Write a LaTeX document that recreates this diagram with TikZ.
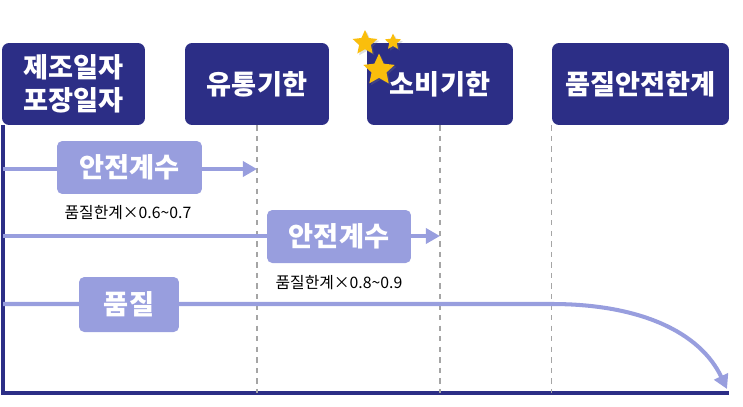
\documentclass[tikz,border=0pt]{standalone}
\usepackage{fontspec}
\setmainfont{Noto Sans CJK KR}
\usetikzlibrary{arrows.meta,shapes.geometric,shadows}
\definecolor{navy}{RGB}{44,46,134}
\definecolor{lav}{RGB}{152,158,222}
\definecolor{gold}{RGB}{250,190,12}
\definecolor{dashgray}{RGB}{165,165,165}

\begin{document}
\begin{tikzpicture}[x=0.02cm,y=-0.02cm,
	head/.style={fill=navy,rounded corners=4pt,text=white,inner sep=0pt,
		minimum height=1.64cm,align=center,font=\fontsize{15.5}{19}\selectfont\bfseries},
	factor/.style={fill=lav,rounded corners=3pt,text=white,inner sep=0pt,
		minimum height=1.06cm,font=\fontsize{15.5}{18}\selectfont\bfseries},
	note/.style={font=\fontsize{9}{10}\selectfont},
	flow/.style={draw=lav,line width=2.3pt,-{Triangle[length=8pt,width=8.5pt]}},
	axis/.style={draw=navy,line width=2.2pt},
	guide/.style={draw=dashgray,dashed,line width=0.6pt},
	spark/.style={star,star points=5,star point ratio=2.1,fill=gold,inner sep=0pt,
		drop shadow={opacity=0.25,shadow xshift=1pt,shadow yshift=-1pt}}]
\useasboundingbox (0,0) rectangle (743,406);

% headers
\node[head,minimum width=2.86cm] (made) at (73.5,84) {제조일자\\포장일자};
\node[head,minimum width=2.88cm] (sell) at (257,84) {유통기한};
\node[head,minimum width=2.92cm] (use) at (440,84) {소비기한};
\node[head,minimum width=3.54cm] (limit) at (640.5,84) {품질안전한계};

% time axis
\coordinate (origin) at (3,393);
\coordinate (end) at (729,393);
\draw[axis] (made.south west -| origin) -- (origin) -- (end);

% guides
\coordinate (g1) at (sell.south |- origin);
\coordinate (g2) at (use.south |- origin);
\coordinate (g3) at (limit.south west |- origin);
\draw[guide] (sell.south) -- (g1);
\draw[guide] (use.south) -- (g2);
\draw[guide] (limit.south west) -- (g3);

% arrows
\coordinate (s1) at (3,169);
\coordinate (s2) at (3,236);
\coordinate (s3) at (3,304);
\draw[flow] (s1) -- (s1 -| sell.south);
\draw[flow] (s2) -- (s2 -| use.south);
\draw[flow] (s3) -- (s3 -| limit.south west) .. controls (640,304) and (700,332) .. (727,389);

\node[factor,minimum width=2.9cm] (sf1) at (129.5,167.5) {안전계수};
\node[note] (n1) at (128,213) {품질한계×0.6\textasciitilde0.7};
\node[factor,minimum width=2.88cm] (sf2) at (339,236.5) {안전계수};
\node[note] (n2) at (339,283) {품질한계×0.8\textasciitilde0.9};
\node[factor,minimum width=2.0cm,minimum height=1.1cm] (qual) at (129,304.5) {품질};

% stars
\node[spark,minimum size=0.52cm] (st1) at (365,43) {};
\node[spark,minimum size=0.34cm] (st2) at (393,42) {};
\node[spark,minimum size=0.66cm] (st3) at (379,70) {};
\end{tikzpicture}
\end{document}
